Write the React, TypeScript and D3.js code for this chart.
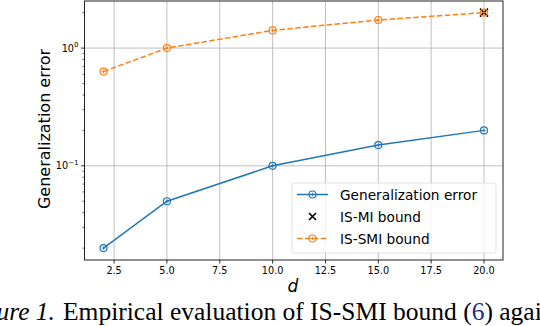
import React from 'react';
import * as d3 from 'd3';

// data
const dims = [2, 5, 10, 15, 20];
const genError = [0.02, 0.05, 0.1, 0.15, 0.2];
const smiBound = [0.632, 1.0, 1.414, 1.732, 2.0];
const miPoint = [20];
const miBound = [2.0];
const xTickValues = [2.5, 5, 7.5, 10, 12.5, 15, 17.5, 20];
const yMajorTicks = [0.1, 1];
const legendLabels = ['Generalization error', 'IS-MI bound', 'IS-SMI bound'];

const W = 540;
const H = 326;
const plot = { left: 84.5, right: 503, top: 1, bottom: 260 };

const blue = '#1f77b4';
const orange = '#ff7f0e';
const font = 'DejaVu Sans, sans-serif';

const RingMarker = ({ x, y, color }: { x: number; y: number; color: string }) => (
  <g>
    <circle cx={x} cy={y} r={3.5} fill="none" stroke={color} strokeWidth={1.2} />
    <path d={`M${x - 1.7},${y}H${x + 1.7}M${x},${y - 1.7}V${y + 1.7}`} stroke={color} strokeWidth={0.9} />
  </g>
);

const Cross = ({ x, y, s = 4 }: { x: number; y: number; s?: number }) => (
  <path d={`M${x - s},${y - s}L${x + s},${y + s}M${x - s},${y + s}L${x + s},${y - s}`} stroke="#000" strokeWidth={1.6} />
);

export default function App() {
  const x = d3.scaleLinear().domain([1.1, 20.9]).range([plot.left, plot.right]);
  const y = d3.scaleLog().domain([Math.pow(10, -1.8), Math.pow(10, 0.4)]).range([plot.bottom, plot.top]);

  const line = d3.line<number>().x((_, i) => x(dims[i])).y((d) => y(d));

  const minorTicks: number[] = [];
  for (const base of [0.01, 0.1, 1]) {
    for (let k = 2; k <= 9; k++) {
      const v = base * k;
      if (v >= y.domain()[0] && v <= y.domain()[1]) minorTicks.push(v);
    }
  }

  const lg = { x: 292, y: 183, w: 204, h: 70 };
  const rowY = [194.5, 216.5, 238.5];

  return (
    <svg width={W} height={H} style={{ position: 'fixed', left: 0, top: 0, background: '#fff' }}>
      <rect width={W} height={H} fill="#fff" />
      {/* grid */}
      {xTickValues.map((t) => (
        <line key={'gx' + t} x1={x(t)} x2={x(t)} y1={plot.top} y2={plot.bottom} stroke="#b0b0b0" strokeWidth={0.8} />
      ))}
      {yMajorTicks.map((t) => (
        <line key={'gy' + t} x1={plot.left} x2={plot.right} y1={y(t)} y2={y(t)} stroke="#b0b0b0" strokeWidth={0.8} />
      ))}

      {/* series */}
      <path d={line(genError) || ''} fill="none" stroke={blue} strokeWidth={1.5} />
      <path d={line(smiBound) || ''} fill="none" stroke={orange} strokeWidth={1.5} strokeDasharray="5.5,2.4" />
      {genError.map((v, i) => (
        <RingMarker key={'b' + i} x={x(dims[i])} y={y(v)} color={blue} />
      ))}
      {miBound.map((v, i) => (
        <Cross key={'m' + i} x={x(miPoint[i])} y={y(v)} />
      ))}
      {smiBound.map((v, i) => (
        <RingMarker key={'o' + i} x={x(dims[i])} y={y(v)} color={orange} />
      ))}

      {/* frame */}
      <rect x={plot.left} y={plot.top} width={plot.right - plot.left} height={plot.bottom - plot.top} fill="none" stroke="#222" strokeWidth={1} />

      {/* x ticks */}
      {xTickValues.map((t) => (
        <g key={'xt' + t}>
          <line x1={x(t)} x2={x(t)} y1={plot.bottom} y2={plot.bottom + 3.5} stroke="#000" strokeWidth={0.8} />
          <text x={x(t)} y={274} textAnchor="middle" fontFamily={font} fontSize={9.7}>
            {t.toFixed(1)}
          </text>
        </g>
      ))}
      {/* y ticks */}
      {minorTicks.map((t) => (
        <line key={'ym' + t} x1={plot.left - 2} x2={plot.left} y1={y(t)} y2={y(t)} stroke="#000" strokeWidth={0.6} />
      ))}
      {yMajorTicks.map((t) => (
        <g key={'yt' + t}>
          <line x1={plot.left - 3.5} x2={plot.left} y1={y(t)} y2={y(t)} stroke="#000" strokeWidth={0.8} />
          <text x={plot.left - 6} y={y(t) + 3.5} textAnchor="end" fontFamily={font} fontSize={9.7}>
            10
            <tspan fontSize={7} dy={-4.5}>
              {Math.round(Math.log10(t)) === 0 ? '0' : '\u2212' + Math.abs(Math.round(Math.log10(t)))}
            </tspan>
          </text>
        </g>
      ))}

      {/* axis labels */}
      <text x={293} y={292} textAnchor="middle" fontFamily={font} fontSize={17} fontStyle="italic">
        d
      </text>
      <text transform={`translate(50,129) rotate(-90)`} textAnchor="middle" fontFamily={font} fontSize={16}>
        Generalization error
      </text>

      {/* legend */}
      <rect x={lg.x} y={lg.y} width={lg.w} height={lg.h} rx={2.5} fill="#fff" fillOpacity={0.8} stroke="#d8d8d8" strokeWidth={0.8} />
      <line x1={297} x2={328} y1={rowY[0]} y2={rowY[0]} stroke={blue} strokeWidth={1.5} />
      <RingMarker x={312.5} y={rowY[0]} color={blue} />
      <Cross x={312.5} y={rowY[1]} s={3.5} />
      <line x1={297} x2={328} y1={rowY[2]} y2={rowY[2]} stroke={orange} strokeWidth={1.5} strokeDasharray="5.5,2.4" />
      <RingMarker x={312.5} y={rowY[2]} color={orange} />
      {legendLabels.map((l, i) => (
        <text key={l} x={340} y={rowY[i] + 5} fontFamily={font} fontSize={13.7}>
          {l}
        </text>
      ))}

      {/* caption */}
      <text x={55} y={320} textAnchor="end" fontFamily="Liberation Serif, serif" fontSize={25.5} fontStyle="italic">
        Figure 1.
      </text>
      <text x={63} y={320} fontFamily="Liberation Serif, serif" fontSize={25.5}>
        Empirical evaluation of IS-SMI bound (<tspan fill="#1a2a8a">6</tspan>) against
      </text>
    </svg>
  );
}
